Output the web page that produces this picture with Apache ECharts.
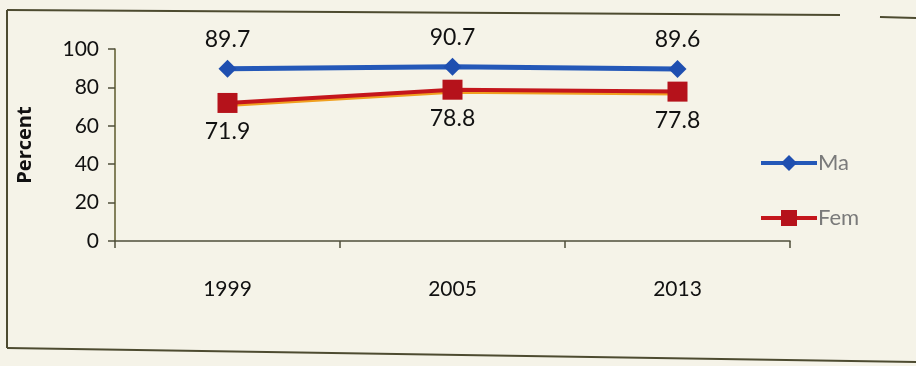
<!DOCTYPE html>
<html>
<head>
<meta charset="utf-8">
<script src="https://cdn.jsdelivr.net/npm/echarts@6/dist/echarts.min.js"></script>
<style>
  html, body { margin: 0; padding: 0; background: #f5f3e8; }
  #chart { width: 916px; height: 366px; }
</style>
</head>
<body>
<div id="chart"></div>
<script>
// Survey years and percentages by sex
const years = ['1999', '2005', '2013'];
const maleValues = [89.7, 90.7, 89.6];
const femaleValues = [71.9, 78.8, 77.8];
const yTicks = [0, 20, 40, 60, 80, 100];

const FONT = 'Lato, "Open Sans", sans-serif';
const axisColor = '#4f4f3a';

const chart = echarts.init(document.getElementById('chart'), null, { renderer: 'canvas' });

chart.setOption({
  backgroundColor: '#f5f3e8',
  animation: false,
  grid: { left: 115, right: 126, top: 49, bottom: 125 },
  xAxis: {
    type: 'category',
    data: years,
    boundaryGap: true,
    axisLine: { lineStyle: { color: axisColor, width: 1.5 } },
    axisTick: { show: true, length: 7, interval: 0, lineStyle: { color: axisColor, width: 1.5 } },
    axisLabel: { margin: 38, fontFamily: FONT, fontSize: 21, color: '#111' },
    splitLine: { show: false }
  },
  yAxis: {
    type: 'value',
    min: yTicks[0],
    max: yTicks[yTicks.length - 1],
    interval: 20,
    name: 'Percent',
    nameLocation: 'middle',
    nameRotate: 90,
    nameGap: 80,
    nameTextStyle: { fontFamily: '"Open Sans", sans-serif', fontSize: 20, fontWeight: 'bold', color: '#111' },
    axisLine: { show: true, lineStyle: { color: '#5d5a2c', width: 1.5 } },
    axisTick: { show: true, length: 7, lineStyle: { color: axisColor, width: 1.5 } },
    axisLabel: { margin: 16, fontFamily: FONT, fontSize: 21, color: '#111' },
    splitLine: { show: false }
  },
  legend: {
    orient: 'vertical',
    left: 754,
    top: 147,
    itemWidth: 56,
    itemHeight: 20,
    itemGap: 33,
    lineStyle: { width: 4 },
    textStyle: { fontFamily: FONT, fontSize: 22, color: '#7a7a7a', padding: [0, 0, 0, -4] },
    data: [
      { name: 'Male', textStyle: { width: 38, overflow: 'truncate', ellipsis: ' ' } },
      { name: 'Female', textStyle: { width: 52, overflow: 'truncate', ellipsis: ' ' } }
    ]
  },
  series: [
    {
      name: 'Male',
      type: 'line',
      data: maleValues,
      symbol: 'diamond',
      symbolSize: 18,
      itemStyle: { color: '#1f4fb0' },
      lineStyle: { color: '#2458b8', width: 5 },
      label: {
        show: true,
        position: 'top',
        distance: 9,
        fontFamily: FONT,
        fontSize: 23,
        color: '#111'
      },
      z: 3
    },
    {
      name: 'Female',
      type: 'line',
      data: femaleValues,
      symbol: 'rect',
      symbolSize: 20,
      itemStyle: { color: '#b5121b' },
      lineStyle: {
        color: '#c4161c',
        width: 4,
        shadowColor: '#f0a020',
        shadowBlur: 0,
        shadowOffsetY: 2
      },
      label: {
        show: true,
        position: 'bottom',
        distance: 7,
        fontFamily: FONT,
        fontSize: 23,
        color: '#111'
      },
      z: 2
    }
  ],
  graphic: [
    // chart frame
    { type: 'line', shape: { x1: 7, y1: 10, x2: 840, y2: 15 }, style: { stroke: '#4d4b30', lineWidth: 2 } },
    { type: 'line', shape: { x1: 880, y1: 17, x2: 916, y2: 18 }, style: { stroke: '#4d4b30', lineWidth: 2 } },
    { type: 'line', shape: { x1: 7, y1: 10, x2: 7, y2: 348 }, style: { stroke: '#4d4b30', lineWidth: 2 } },
    { type: 'line', shape: { x1: 7, y1: 348, x2: 916, y2: 362 }, style: { stroke: '#4d4b30', lineWidth: 2 } }
  ]
});
</script>
</body>
</html>
